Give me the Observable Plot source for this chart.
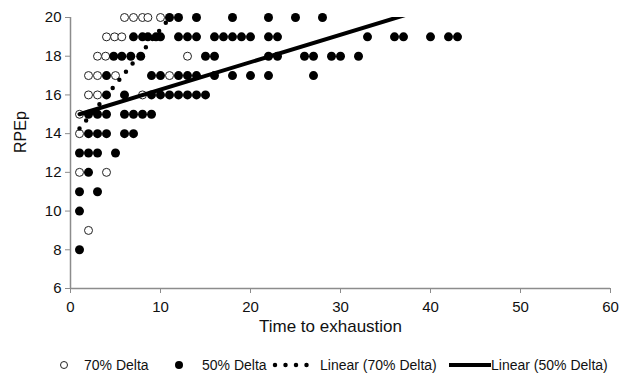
<!DOCTYPE html>
<html><head><meta charset="utf-8">
<script src="https://cdn.jsdelivr.net/npm/d3@7"></script>
<script src="https://cdn.jsdelivr.net/npm/@observablehq/plot@0.6"></script>
<style>
body{margin:0;background:#fff;font-family:Arial,"Liberation Sans",sans-serif;}
#chart svg{display:block}
#legend{position:relative;width:622px;height:36px;font-size:14px;color:#111}
#legend .it{position:absolute;top:11px;height:18px;line-height:18px;white-space:nowrap}
#legend svg{position:absolute;top:0}
</style></head><body><div id="chart"></div><div id="legend"></div>
<script>
// 70% Delta (open circles)
const delta70Time = [6, 7, 8, 8.6, 10,  4, 4.9, 5.7,  3, 3.9, 13,  2, 3, 5, 11,  2, 3, 8,  1,  1,  1, 4,  2];
const delta70Rpe  = [20,20,20,20,20, 19,19,19,  18,18,18,  17,17,17,17, 16,16,16, 15, 14, 12,12, 9];
// 50% Delta (filled circles)
const delta50Time = [11,12,14,18,22,25,28,
  7,8,8.6,9.5,10,12,13,14,16,17,18,19,20,22,23,33,36,37,40,42,43,
  4.8,5.7,6.7,7.8,15,16,22,23,26,27,29,30,32,
  4,9,10,12,13,14,16,18,20,22,27,
  4,6,9,10,11,12,13,14,15,
  2,3,4,6,7,8,9,
  2,3,4,6,7,
  1,2,3,5,
  2,
  1,3,
  1,
  1];
const delta50Rpe = [20,20,20,20,20,20,20,
  19,19,19,19,19,19,19,19,19,19,19,19,19,19,19,19,19,19,19,19,19,
  18,18,18,18,18,18,18,18,18,18,18,18,18,
  17,17,17,17,17,17,17,17,17,17,17,
  16,16,16,16,16,16,16,16,16,
  15,15,15,15,15,15,15,
  14,14,14,14,14,
  13,13,13,13,
  12,
  11,11,
  10,
  8];
// Linear trendlines (end points, clipped at the plot area)
const trend70Time = [1, 13];
const trend70Rpe  = [14.26, 21.1];
const trend50Time = [1, 43];
const trend50Rpe  = [15.0, 20.95];

const xTicks = [0,10,20,30,40,50,60];
const yTicks = [6,8,10,12,14,16,18,20];
const xTitle = "Time to exhaustion";
const yTitle = "RPEp";
const legendLabels = ["70% Delta","50% Delta","Linear (70% Delta)","Linear (50% Delta)"];

const d70 = delta70Time.map((t,i)=>({t, r: delta70Rpe[i]}));
const d50 = delta50Time.map((t,i)=>({t, r: delta50Rpe[i]}));
const t70 = trend70Time.map((t,i)=>({t, r: trend70Rpe[i]}));
const t50 = trend50Time.map((t,i)=>({t, r: trend50Rpe[i]}));

const font = 'Arial, "Liberation Sans", sans-serif';
const chart = Plot.plot({
  width: 622, height: 345,
  marginLeft: 70, marginRight: 12, marginTop: 17, marginBottom: 57,
  x: {domain: [0, 60]},
  y: {domain: [6, 20]},
  style: {fontFamily: font, fontSize: "15px", color: "#111", background: "#fff"},
  marks: [
    Plot.axisX({ticks: xTicks, tickSize: 5, tickPadding: 8, stroke: "#8c8c8c", fill: "#111", label: null, fontSize: 15}),
    Plot.axisY({ticks: yTicks, tickSize: 5, tickPadding: 4, stroke: "#8c8c8c", fill: "#111", label: null, fontSize: 15}),
    Plot.ruleY([6], {stroke: "#8c8c8c", strokeWidth: 1.5}),
    Plot.ruleX([0], {stroke: "#8c8c8c", strokeWidth: 1.5}),
    Plot.text([xTitle], {frameAnchor: "bottom", dy: 43, dx: -10, fontSize: 17, fill: "#111"}),
    Plot.text([yTitle], {frameAnchor: "left", dx: -50, rotate: -90, fontSize: 16, fill: "#111"}),
    Plot.dot(d70, {x: "t", y: "r", r: 4, fill: "#fff", stroke: "#222", strokeWidth: 1}),
    Plot.dot(d50, {x: "t", y: "r", r: 4.5, fill: "#000", stroke: "none"}),
    Plot.line(t70, {x: "t", y: "r", stroke: "#000", strokeWidth: 4.5, strokeDasharray: "0 10.5", strokeLinecap: "round", clip: true}),
    Plot.line(t50, {x: "t", y: "r", stroke: "#000", strokeWidth: 4, clip: true})
  ]
});
document.getElementById("chart").append(chart);

const lg = document.getElementById("legend");
const items = [
  {sx: 58, sw: 12, text: 84, kind: "open"},
  {sx: 173, sw: 12, text: 202, kind: "filled"},
  {sx: 272, sw: 46, text: 320, kind: "dots"},
  {sx: 449, sw: 42, text: 491, kind: "solid"}
];
items.forEach((it, i) => {
  let g = "";
  if (it.kind === "open") g = `<circle cx="6" cy="9" r="3.5" fill="#fff" stroke="#222" stroke-width="1"/>`;
  if (it.kind === "filled") g = `<circle cx="6" cy="9" r="4" fill="#000"/>`;
  if (it.kind === "dots") g = `<line x1="3" x2="44" y1="9" y2="9" stroke="#000" stroke-width="4.5" stroke-linecap="round" stroke-dasharray="0 10.5"/>`;
  if (it.kind === "solid") g = `<line x1="0" x2="42" y1="9" y2="9" stroke="#000" stroke-width="4"/>`;
  const s = document.createElement("div");
  s.className = "it";
  s.style.left = it.sx + "px";
  s.innerHTML = `<svg width="${it.sw}" height="18">${g}</svg>`;
  lg.append(s);
  const t = document.createElement("div");
  t.className = "it";
  t.style.left = it.text + "px";
  t.textContent = legendLabels[i];
  lg.append(t);
});
</script></body></html>
